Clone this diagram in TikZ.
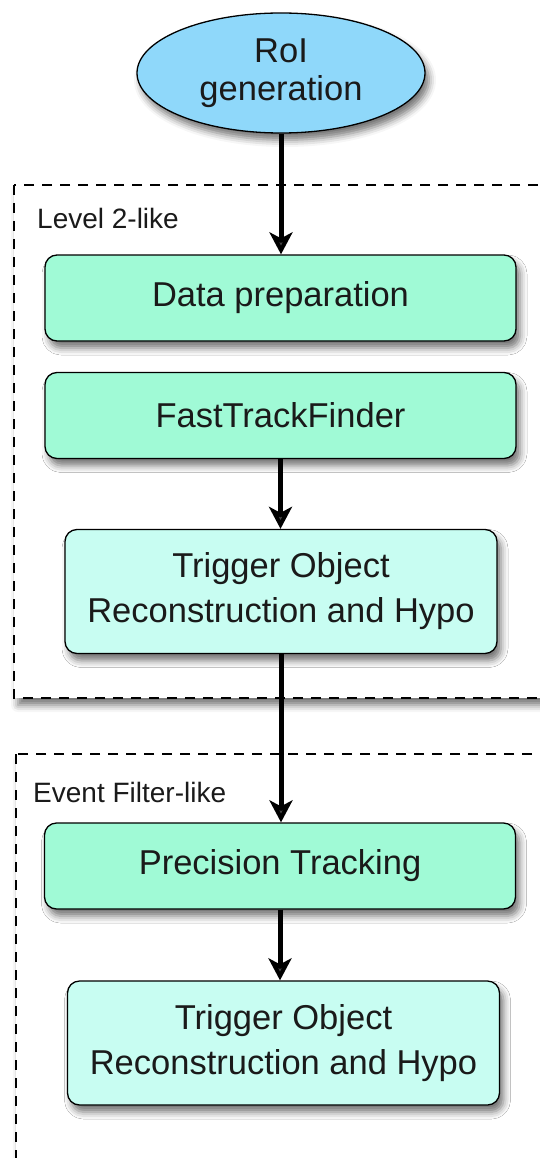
\documentclass[tikz,border=0pt]{standalone}
\usepackage{fontspec}
\setmainfont{Liberation Sans}
\usepackage{xcolor}
\usepackage{tikz}
\usetikzlibrary{arrows.meta,positioning,shapes.geometric,shadows.blur}
\definecolor{StageGreen}{HTML}{A0FAD6}
\definecolor{HypoCyan}{HTML}{C8FDF2}
\definecolor{RoiBlue}{HTML}{8FD8FA}
\definecolor{InkBlack}{HTML}{1A1A1A}

\begin{document}
\begin{tikzpicture}[x=1pt,y=-1pt,>=Stealth,
  softshadow/.style={blur shadow={shadow xshift=4pt,shadow yshift=-7pt,
    shadow blur radius=7pt,shadow opacity=55}},
  stage/.style={draw=black,line width=1.3pt,rounded corners=12pt,fill=StageGreen,
    minimum width=471pt,minimum height=86pt,align=center,text=InkBlack,
    font=\fontsize{34.5}{38}\selectfont,inner sep=0pt,softshadow},
  hypo/.style={stage,fill=HypoCyan,minimum width=432pt,minimum height=124pt,
    font=\fontsize{34.5}{45}\selectfont},
  roi/.style={draw=black,line width=1.3pt,ellipse,fill=RoiBlue,
    minimum width=288pt,minimum height=120pt,inner sep=0pt,align=center,
    text=InkBlack,font=\fontsize{34.5}{38}\selectfont,softshadow},
  groupbox/.style={draw=black,fill=white,line width=1.4pt,dash pattern=on 10pt off 8pt,
    softshadow},
  grouplabel/.style={anchor=base west,inner sep=0pt,text=InkBlack,
    font=\fontsize{28}{30}\selectfont},
  flow/.style={->,line width=5pt,arrows={-Stealth[length=22pt,width=23pt,inset=6pt]}}]
  \useasboundingbox (0,0) rectangle (539,1158);
  % the two trigger levels
  \draw[groupbox] (14,185) rectangle (600,698);
  \draw[groupbox] (16,754) rectangle (600,1220);
  \node[grouplabel] (l2label) at (37,229) {Level 2-like};
  \node[grouplabel] (eflabel) at (33,802) {Event Filter-like};
  % steps
  \node[roi] (roi) at (281,73) {RoI\\generation};
  \node[stage] (dataprep) at (280.5,298) {Data preparation};
  \node[stage] (ftf) at (280.5,415.5) {FastTrackFinder};
  \node[hypo] (l2hypo) at (281,591.5) {Trigger Object\\Reconstruction and Hypo};
  \node[stage] (prectrk) at (280,866) {Precision Tracking};
  \node[hypo] (efhypo) at (283.5,1043) {Trigger Object\\Reconstruction and Hypo};
  \draw[flow] (roi.south) -- (roi.south |- dataprep.north);
  \draw[flow] (ftf.south) -- (ftf.south |- l2hypo.north);
  \draw[flow] (l2hypo.south) -- (l2hypo.south |- prectrk.north);
  \draw[flow] (prectrk.south) -- (prectrk.south |- efhypo.north);
\end{tikzpicture}
\end{document}
